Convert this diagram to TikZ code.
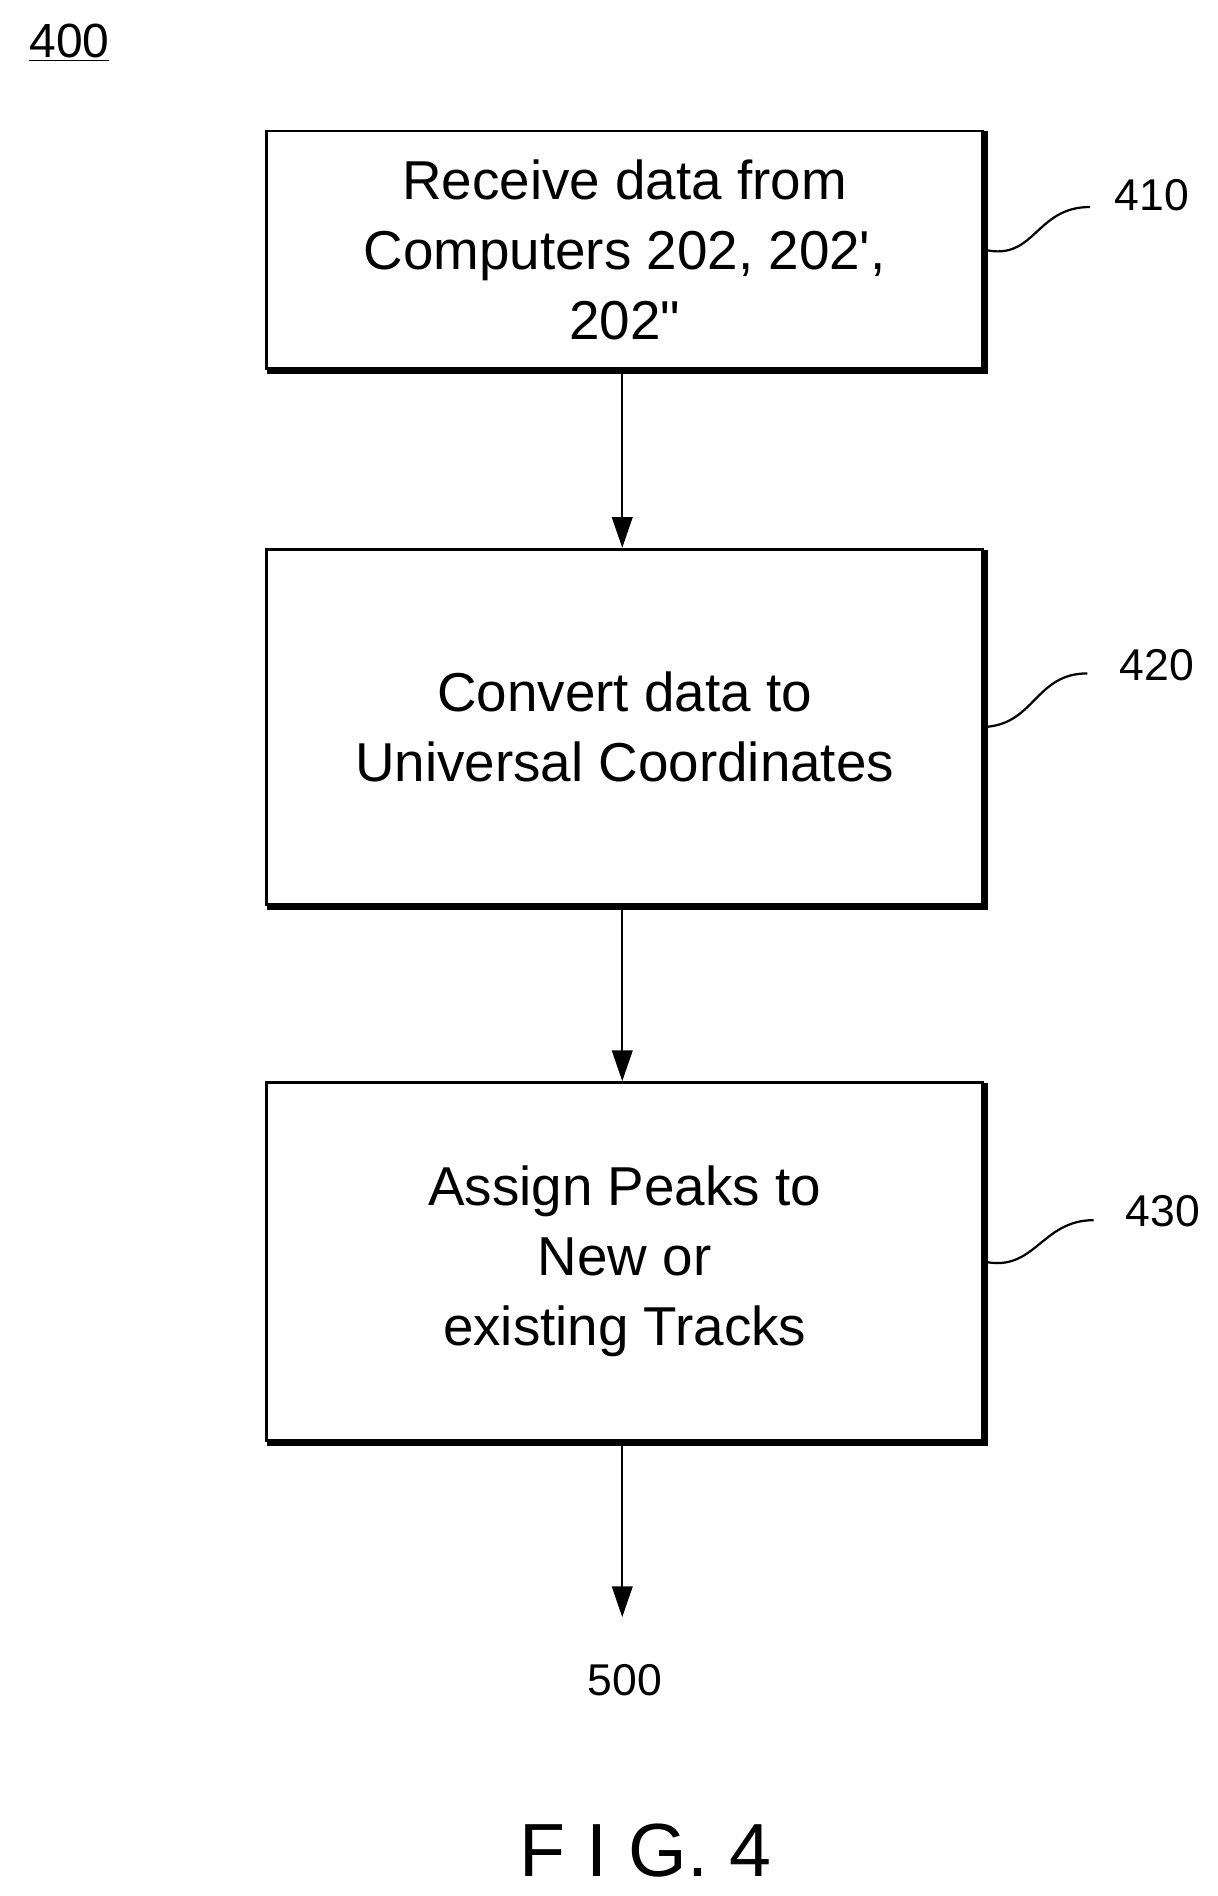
\documentclass[tikz,border=0pt]{standalone}
\usepackage{fontspec}
\setmainfont{Liberation Sans}
\newfontfamily\plainfont{Liberation Sans}
\usetikzlibrary{arrows.meta}
\begin{document}
\begin{tikzpicture}[x=0.025cm,y=-0.025cm,
  box/.style={draw,line width=1.6pt,minimum width=588*0.025cm,align=center,font=\plainfont\fontsize{32}{41}\selectfont,inner sep=0pt},
  lab/.style={font=\fontsize{26}{30}\selectfont},
  arr/.style={line width=1.3pt,-{Triangle[length=18pt,width=12pt]}},
  sq/.style={line width=1.3pt}]
\useasboundingbox (0,0) rectangle (1000,1557);
\node[box,minimum height=195*0.025cm] (b1) at (513,205) {Receive data from\\Computers 202, 202',\\202"};
\node[box,minimum height=292*0.025cm] (b2) at (513,597) {Convert data to\\Universal Coordinates};
\node[box,minimum height=294*0.025cm] (b3) at (513,1036) {Assign Peaks to\\New or\\existing Tracks};
\foreach \b in {b1,b2,b3}{
  \draw[line width=2.4pt] ([xshift=1.2pt,yshift=-1pt]\b.north east) -- ([xshift=1.2pt,yshift=-1.2pt]\b.south east) -- ([xshift=1pt,yshift=-1.2pt]\b.south west);}
\node[lab] (e) at (513,1380) {500};
\coordinate (e0) at (511,1328);
\draw[arr] (b1.south -| 511,0) -- (b2.north -| 511,0);
\draw[arr] (b2.south -| 511,0) -- (b3.north -| 511,0);
\draw[arr] (b3.south -| 511,0) -- (e0);
\node[lab] (l1) at (946,160) {410};
\node[lab] (l2) at (950,546) {420};
\node[lab] (l3) at (955,995) {430};
\draw[sq] (b1.east) .. controls (850,215) and (850,170) .. (895,170);
\draw[sq] (b2.east) .. controls (850,595) and (850,553) .. (893,553);
\draw[sq] (b3.east) .. controls (850,1045) and (855,1002) .. (898,1002);
\node[font=\fontsize{28}{30}\selectfont] (n400) at (57,35) {\underline{400}};
\node[font=\fontsize{44}{50}\selectfont] (fig) at (530,1520) {F I G. 4};
\end{tikzpicture}
\end{document}
